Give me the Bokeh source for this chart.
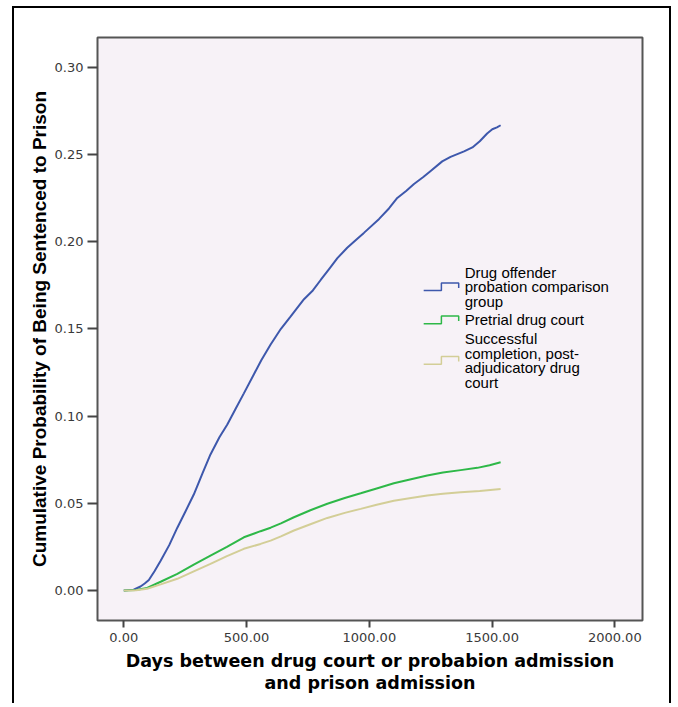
from bokeh.plotting import figure
from bokeh.models import Range1d, FixedTicker, NumeralTickFormatter
from bokeh.embed import file_html
from bokeh.resources import INLINE
from bokeh.core.properties import value

# ---------------- data ----------------
SERIES_NAMES = [
    "Drug offender probation comparison group",
    "Pretrial drug court",
    "Successful completion, post-adjudicatory drug court",
]
LEGEND_LINES = [
    ["Drug offender", "probation comparison", "group"],
    ["Pretrial drug court"],
    ["Successful", "completion, post-", "adjudicatory drug", "court"],
]
COLORS = ["#3E58AC", "#2EB848", "#D3CE97"]

blue_days = [0, 40, 68, 85, 102, 125, 150, 185, 218, 250, 285, 320, 353, 390, 421, 455,
             489, 530, 560, 598, 640, 679, 734, 770, 802, 840, 870, 910, 950, 978, 1040,
             1080, 1114, 1150, 1182, 1220, 1250, 1297, 1331, 1386, 1420, 1450, 1480, 1501,
             1520, 1535]
blue_vals = [0.0, 0.0005, 0.0023, 0.004, 0.006, 0.011, 0.017, 0.026, 0.036, 0.045, 0.055,
             0.067, 0.078, 0.088, 0.095, 0.104, 0.113, 0.124, 0.132, 0.141, 0.150, 0.157,
             0.167, 0.172, 0.178, 0.185, 0.1905, 0.1965, 0.2015, 0.205, 0.213, 0.219, 0.225,
             0.229, 0.233, 0.237, 0.2405, 0.246, 0.2486, 0.2517, 0.254, 0.2575, 0.262,
             0.2644, 0.2655, 0.2667]

green_days = [0, 50, 95, 150, 218, 285, 353, 420, 489, 557, 598, 640, 693, 760, 829, 900,
              965, 1030, 1100, 1170, 1236, 1300, 1372, 1440, 1490, 1535]
green_vals = [0.0, 0.0003, 0.0015, 0.005, 0.0095, 0.0148, 0.020, 0.025, 0.0305, 0.034,
              0.036, 0.0385, 0.042, 0.046, 0.0497, 0.053, 0.0557, 0.0585, 0.0615, 0.0638,
              0.0659, 0.0676, 0.069, 0.0703, 0.0718, 0.0735]

tan_days = [0, 50, 95, 150, 218, 285, 353, 420, 489, 557, 598, 640, 693, 760, 829, 900,
            965, 1030, 1100, 1170, 1236, 1300, 1372, 1450, 1535]
tan_vals = [0.0, 0.0002, 0.001, 0.0035, 0.0067, 0.011, 0.0153, 0.0197, 0.0239, 0.0267,
            0.0286, 0.031, 0.0344, 0.038, 0.0416, 0.0445, 0.0468, 0.0492, 0.0515, 0.053,
            0.0544, 0.0555, 0.0563, 0.0571, 0.0582]

X_TICKS = [0, 500, 1000, 1500, 2000]
Y_TICKS = [0.0, 0.05, 0.10, 0.15, 0.20, 0.25, 0.30]

X_LABEL = "Days between drug court or probabion admission\nand prison admission"
Y_LABEL = "Cumulative Probability of Being Sentenced to Prison"

# ---------------- layout ----------------
X_START, X_END = -107.2, 2112.9
Y_START, Y_END = -0.0172, 0.3170

CANVAS_X0, CANVAS_Y0 = 14, 8
FRAME_L, FRAME_R, FRAME_T, FRAME_B = 97, 641.7, 37, 620
W, H = 659, 697

p = figure(width=W, height=H, output_backend="svg", toolbar_location=None,
           x_range=Range1d(X_START, X_END), y_range=Range1d(Y_START, Y_END),
           min_border_left=FRAME_L - CANVAS_X0,
           min_border_right=int(CANVAS_X0 + W - FRAME_R),
           min_border_top=FRAME_T - CANVAS_Y0,
           min_border_bottom=CANVAS_Y0 + H - FRAME_B)
p.styles = {"border": "2px solid black", "border-bottom": "none",
            "margin-left": "12px", "margin-top": "6px"}

p.background_fill_color = "#F7F2F7"
p.border_fill_color = "white"
p.outline_line_color = "#555555"
p.outline_line_width = 2
p.grid.visible = False

for ax in (p.xaxis, p.yaxis):
    ax.axis_line_color = None
    ax.major_tick_line_color = "#444444"
    ax.major_tick_line_width = 2
    ax.major_tick_in = 0
    ax.minor_tick_line_color = None
    ax.major_label_text_font = "DejaVu Sans"
    ax.major_label_text_font_size = "13px"
    ax.major_label_text_color = "#3a3a3a"
    ax.axis_label_text_font_style = "bold"
    ax.axis_label_text_color = "black"

p.xaxis.ticker = FixedTicker(ticks=X_TICKS)
p.yaxis.ticker = FixedTicker(ticks=Y_TICKS)
p.xaxis.formatter = NumeralTickFormatter(format="0.00")
p.yaxis.formatter = NumeralTickFormatter(format="0.00")
p.xaxis.major_tick_out = 7
p.yaxis.major_tick_out = 10
p.xaxis.major_label_standoff = 5
p.yaxis.major_label_standoff = 4

p.xaxis.axis_label = X_LABEL
p.xaxis.axis_label_text_font = "DejaVu Sans"
p.xaxis.axis_label_text_font_size = "17.5px"
p.xaxis.axis_label_text_line_height = 1.1
p.xaxis.axis_label_standoff = 6

p.yaxis.axis_label = Y_LABEL
p.yaxis.axis_label_text_font = "Liberation Sans"
p.yaxis.axis_label_text_font_size = "19px"
p.yaxis.axis_label_standoff = 2

# ---------------- curves ----------------
for days, vals, col in ((blue_days, blue_vals, COLORS[0]),
                        (green_days, green_vals, COLORS[1]),
                        (tan_days, tan_vals, COLORS[2])):
    p.line(days, vals, line_color=col, line_width=2)

# ---------------- legend (custom, step symbols) ----------------
def sx(px):
    return X_START + (px - FRAME_L) / (FRAME_R - FRAME_L) * (X_END - X_START)


def sy(py):
    return Y_END - (py - FRAME_T) / (FRAME_B - FRAME_T) * (Y_END - Y_START)


LEG_FIRST = 271.7
LINE_H = 14.5
ITEM_GAP = 4.2
TEXT_X = 464
SYM_X0, SYM_XM, SYM_X1 = 423, 440.7, 458
SYM_HALF = 3.8

tx, ty, tt = [], [], []
cur = LEG_FIRST
for lines, col in zip(LEGEND_LINES, COLORS):
    centers = [cur + i * LINE_H for i in range(len(lines))]
    for c, t in zip(centers, lines):
        tx.append(sx(TEXT_X))
        ty.append(sy(c))
        tt.append(t)
    mid = (centers[0] + centers[-1]) / 2
    lo, hi = mid + SYM_HALF, mid - SYM_HALF
    xs = [sx(SYM_X0), sx(SYM_XM), sx(SYM_XM), sx(SYM_X1), sx(SYM_X1)]
    ys = [sy(lo), sy(lo), sy(hi), sy(hi), sy(hi + 5)]
    p.line(xs, ys, line_color=col, line_width=1.5)
    cur = centers[-1] + LINE_H + ITEM_GAP

p.text(x=tx, y=ty, text=tt, text_font=value("Liberation Sans"), text_font_size="15px",
       text_baseline="middle", text_align="left", text_color="black")

open("out.html", "w").write(file_html(p, INLINE))
